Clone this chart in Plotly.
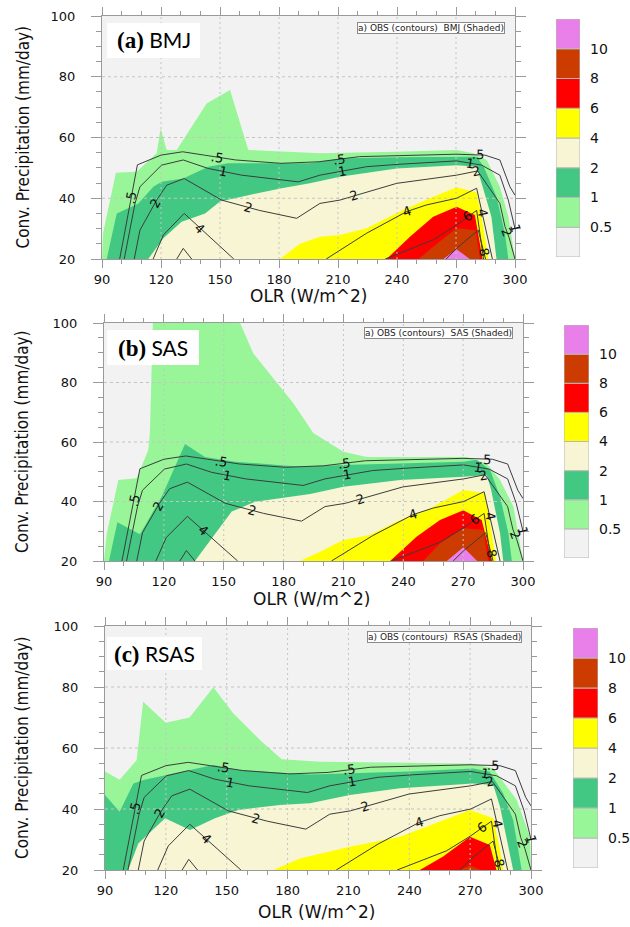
import math
import plotly.graph_objects as go

W, H = 630, 927

# ---------------- data ----------------
LEVEL_LABELS = ["0.5", "1", "2", "4", "6", "8", "10"]
LEVEL_COLORS = ["#f2f2f2", "#98f598", "#42c883", "#f7f5d3", "#ffff00", "#ff0000", "#cc3c00", "#e97fe9"]
XTICKS = [90, 120, 150, 180, 210, 240, 270, 300]
YTICKS = [20, 40, 60, 80, 100]
SCHEMES = ["BMJ", "SAS", "RSAS"]
PANEL_TAGS = ["(a)", "(b)", "(c)"]

# OBS contour lines (OLR, precipitation)
OBS_C05_X = [99, 108, 120, 131, 142, 158, 181, 200, 221, 245, 270, 284.7, 292.3, 297.4, 300]
OBS_C05_Y = [20, 51, 54.2, 55.3, 54.2, 52.6, 51.5, 52, 53.7, 54.2, 54.5, 54.2, 52.6, 43.8, 41]
OBS_C1_X = [101.3, 106.8, 109.3, 120.3, 131.3, 144, 161, 189.8, 200.8, 224.6, 241.5, 270.3, 283, 292.3, 296.6, 299.1, 300]
OBS_C1_Y = [20, 38.3, 43.8, 50.9, 52.6, 49.8, 47.6, 45.4, 47.6, 50.4, 51.2, 52.3, 50.9, 47.6, 39.4, 32.3, 30]
OBS_C2_X = [106.4, 109.3, 117.8, 122.9, 131.8, 150.8, 170, 189, 200.8, 211, 239.8, 270.3, 281, 292.3, 294.9, 297, 300]
OBS_C2_Y = [20, 29.5, 39.4, 44.3, 46.5, 39.4, 36, 33.4, 38.3, 39.4, 44.9, 47.6, 49, 38.3, 30.7, 27, 20]
OBS_C4A_X = [116, 121.2, 131.8, 145, 157]
OBS_C4A_Y = [20, 27.9, 35, 27, 20]
OBS_C4B_X = [204, 224.6, 244.9, 255, 270.3, 280.5, 288.5]
OBS_C4B_Y = [20, 28.5, 35.6, 37.8, 40, 43.3, 20]
OBS_C6A_X = [128, 131.3, 135.6]
OBS_C6A_Y = [20, 23.5, 20]
OBS_C6B_X = [234, 258.4, 270.3, 280.5, 284]
OBS_C6B_Y = [20, 26.3, 31.2, 36, 20]
OBS_C8_X = [265, 270.3, 281.3, 285]
OBS_C8_Y = [20, 23.5, 29.5, 20]

# contour labels: (text, line, segment index, fraction along segment)
OBS_LABELS = [
    (".5", "c05", 0, 0.65), (".5", "c05", 4, 0.4), (".5", "c05", 7, 0.5), (".5", "c05", 10, 0.75),
    ("1", "c1", 5, 0.45), ("1", "c1", 8, 0.47), ("1", "c1", 11, 0.55), ("1", "c1", 15, 0.9),
    ("2", "c2", 1, 0.9), ("2", "c2", 5, 0.7), ("2", "c2", 9, 0.25), ("2", "c2", 11, 0.9), ("2", "c2", 14, 0.5),
    ("4", "c4a", 2, 0.6), ("4", "c4b", 2, 0.0), ("4", "c4b", 5, 0.35),
    ("6", "c6b", 2, 0.55), ("8", "c8", 2, 0.75),
]

# shaded model fields: top boundary of region >= level
BMJ_05_X = [90, 90.5, 97.1, 107.6, 117.8, 119.8, 122.9, 128, 143.2, 155.1, 164.4, 200.8, 240, 270.3, 278.8, 285.6, 292.3, 296.6, 300]
BMJ_05_Y = [20, 28.5, 48.4, 48.7, 54.8, 63, 55.9, 55.9, 71.2, 75.6, 55.9, 54.8, 55.3, 55.9, 54.8, 52.6, 43.8, 34, 20]
BMJ_1_X = [92.4, 97.5, 108.5, 116.1, 120.3, 131.3, 144, 154.2, 195.7, 211, 240, 270.3, 280.5, 284, 290.6, 294.9, 296.6]
BMJ_1_Y = [20, 35, 38.3, 43.8, 45.4, 46.5, 50.4, 51.5, 51.5, 53.1, 53.5, 53.7, 53.7, 50.5, 40.5, 28.5, 20]
BMJ_2_X = [113.5, 121.2, 130.5, 142.4, 150, 156.8, 164.4, 181.3, 195.7, 211, 239.8, 270.3, 280.5, 283, 288, 290.6]
BMJ_2_Y = [20, 26.8, 32.3, 35, 38.9, 40, 41, 43.3, 44.9, 47.1, 49.8, 50.9, 50.4, 45, 33.9, 20]
BMJ_4_X = [180.5, 190.7, 200.8, 211, 224.6, 241.5, 258.4, 270.3, 280.5, 283, 286.5]
BMJ_4_Y = [20, 25, 27.3, 27.9, 30.1, 35.6, 40.5, 43.5, 42, 33.9, 20]
BMJ_6_X = [234.7, 246.6, 258.4, 270.3, 279.6, 283.5]
BMJ_6_Y = [20, 27.3, 33.9, 37.2, 34.5, 20]
BMJ_8_X = [251, 258.4, 270.3, 280, 282.2]
BMJ_8_Y = [20, 24, 30.1, 29.5, 20]
BMJ_10_X = [263.5, 270.3, 277]
BMJ_10_Y = [20, 23.2, 20]

SAS_05_X = [90, 91.4, 97.2, 106.4, 112.2, 113, 114.5, 158.2, 164.8, 171.6, 184.9, 194.9, 210, 221.7, 271.8, 281.8, 288.5, 295.2, 300]
SAS_05_Y = [20, 29.3, 47.2, 47.8, 57.3, 62.9, 100, 100, 89.8, 84.2, 73, 63, 56.7, 55, 55, 52.8, 47.2, 38.3, 20]
SAS_1_X = [92.5, 96.7, 108, 118.9, 130.6, 140.6, 155.7, 188.2, 210, 270.1, 276.8, 283.5, 288.5, 292.7, 294.4]
SAS_1_Y = [20, 33, 29, 41.6, 59.3, 55, 53.4, 51.7, 52.3, 53.4, 54, 50.6, 41.6, 29.3, 20]
SAS_2_X = [135.6, 154, 165.7, 193.3, 210, 238.4, 270.1, 281.8, 284, 288.5, 290.1]
SAS_2_Y = [20, 36.6, 39.9, 42.5, 45, 47.2, 48.3, 48.9, 44, 29.3, 20]
SAS_4_X = [188.2, 198.3, 210, 223.3, 238.4, 251.8, 270.1, 281, 283.5, 286.5]
SAS_4_Y = [20, 23.1, 27.1, 28.7, 33.8, 37.1, 43.9, 42.8, 32.7, 20]
SAS_6_X = [233.4, 246.8, 258.4, 270.1, 279.3, 284.5]
SAS_6_Y = [20, 28.2, 33.8, 37.1, 33.8, 20]
SAS_8_X = [250, 258.4, 270.1, 280.1, 282.6]
SAS_8_Y = [20, 26, 31, 30.4, 20]
SAS_10_X = [261.8, 270.1, 277]
SAS_10_Y = [20, 24.6, 20]

RSAS_05_X = [90, 90, 97.2, 105.6, 108.8, 120, 131.7, 143.4, 153.2, 166.4, 177.1, 196, 240, 271.5, 281.4, 292.9, 299.5, 300]
RSAS_05_Y = [20, 52.3, 49.6, 56, 75.2, 68.3, 70, 79.9, 71.4, 62.6, 56.3, 55.5, 55.2, 54.8, 53.3, 43, 30.9, 20]
RSAS_1_X = [90, 90, 97.2, 104, 108.9, 120, 143.4, 155.7, 191, 240, 271.5, 279.7, 286.3, 291.2, 295.4]
RSAS_1_Y = [20, 44.6, 39.1, 48.4, 49.5, 51, 54.4, 52.8, 51.3, 52.3, 53.3, 52.2, 45.1, 36.4, 20]
RSAS_2_X = [101.4, 106.4, 119.6, 131.9, 144.2, 155.7, 176.2, 191, 210.7, 235.4, 271.5, 281.4, 284.7, 288, 291.2]
RSAS_2_Y = [20, 28.7, 37, 33.1, 37, 39.7, 41.3, 41.9, 44.6, 46.8, 48.4, 47.9, 40.8, 29.8, 20]
RSAS_4_X = [173, 186.1, 210.7, 235.4, 248.5, 269.9, 281.4, 284.7, 286.3]
RSAS_4_Y = [20, 23.8, 27.6, 30.9, 34.2, 39.7, 37, 26.6, 20]
RSAS_6_X = [245.2, 256.7, 269.9, 279.7, 283]
RSAS_6_Y = [20, 24.4, 30.9, 28.2, 20]
RSAS_8_X = [265, 270, 275]
RSAS_8_Y = [20, 21.5, 20]

SHADED = {
    "BMJ": [(BMJ_05_X, BMJ_05_Y), (BMJ_1_X, BMJ_1_Y), (BMJ_2_X, BMJ_2_Y), (BMJ_4_X, BMJ_4_Y),
            (BMJ_6_X, BMJ_6_Y), (BMJ_8_X, BMJ_8_Y), (BMJ_10_X, BMJ_10_Y)],
    "SAS": [(SAS_05_X, SAS_05_Y), (SAS_1_X, SAS_1_Y), (SAS_2_X, SAS_2_Y), (SAS_4_X, SAS_4_Y),
            (SAS_6_X, SAS_6_Y), (SAS_8_X, SAS_8_Y), (SAS_10_X, SAS_10_Y)],
    "RSAS": [(RSAS_05_X, RSAS_05_Y), (RSAS_1_X, RSAS_1_Y), (RSAS_2_X, RSAS_2_Y), (RSAS_4_X, RSAS_4_Y),
             (RSAS_6_X, RSAS_6_Y), (RSAS_8_X, RSAS_8_Y)],
}
OBS_LINES = {
    "c05": (OBS_C05_X, OBS_C05_Y), "c1": (OBS_C1_X, OBS_C1_Y), "c2": (OBS_C2_X, OBS_C2_Y),
    "c4a": (OBS_C4A_X, OBS_C4A_Y), "c4b": (OBS_C4B_X, OBS_C4B_Y),
    "c6a": (OBS_C6A_X, OBS_C6A_Y), "c6b": (OBS_C6B_X, OBS_C6B_Y), "c8": (OBS_C8_X, OBS_C8_Y),
}

# ---------------- layout geometry (pixels) ----------------
PANEL_PX = [(102, 515, 16, 259), (104, 523, 323, 561), (105, 531, 626, 870)]
CBAR_PX = [(556, 580, 19, 257), (564, 589, 325, 558), (573, 598, 628, 868)]
TAGBOX_PX = [(107, 200, 23, 58), (107, 199, 330, 365), (107, 202, 637, 670)]
NOTE_PX = [(505, 27.5), (513, 333), (522, 637)]
XTITLE_PX = [(309, 296), (312, 599), (317, 912)]


def fx(px):
    return px / W


def fy(py):
    return 1 - py / H


TICKFONT = dict(family="DejaVu Sans", size=13, color="#111")
AXC = "#9a9a9a"

fig = go.Figure()
layout = dict(
    template="none",
    width=W, height=H, margin=dict(l=0, r=0, t=0, b=0, pad=0, autoexpand=False),
    paper_bgcolor="white", plot_bgcolor=LEVEL_COLORS[0], showlegend=False,
    annotations=[], shapes=[],
)

xr = (XTICKS[0], XTICKS[-1])
yr = (YTICKS[0], YTICKS[-1])

for i, name in enumerate(SCHEMES):
    xa, ya = f"x{i+1}", f"y{i+1}"
    x0, x1, yt, yb = PANEL_PX[i]
    sx = (x1 - x0) / (xr[1] - xr[0])
    sy = (yb - yt) / (yr[1] - yr[0])

    # shaded regions
    for k, (xs, ys) in enumerate(SHADED[name]):
        fig.add_trace(go.Scatter(x=xs, y=ys, mode="lines", fill="toself",
                                 fillcolor=LEVEL_COLORS[k + 1], line=dict(width=0),
                                 xaxis=xa, yaxis=ya, hoverinfo="skip"))
    # dotted grid above shading
    for t in XTICKS[1:-1]:
        fig.add_trace(go.Scatter(x=[t, t], y=list(yr), mode="lines",
                                 line=dict(color="#c4c4c4", width=1, dash="2px,3px"),
                                 xaxis=xa, yaxis=ya, hoverinfo="skip"))
    for t in YTICKS[1:-1]:
        fig.add_trace(go.Scatter(x=list(xr), y=[t, t], mode="lines",
                                 line=dict(color="#c4c4c4", width=1, dash="3px,3px"),
                                 xaxis=xa, yaxis=ya, hoverinfo="skip"))
    # OBS contour lines
    for key, (xs, ys) in OBS_LINES.items():
        fig.add_trace(go.Scatter(x=xs, y=ys, mode="lines",
                                 line=dict(color="#3c3c3c", width=1),
                                 xaxis=xa, yaxis=ya, hoverinfo="skip"))
    for txt, key, si, fr in OBS_LABELS:
        xs, ys = OBS_LINES[key]
        lx = xs[si] + fr * (xs[si + 1] - xs[si])
        ly = ys[si] + fr * (ys[si + 1] - ys[si])
        ang = -math.degrees(math.atan2((ys[si + 1] - ys[si]) * sy, (xs[si + 1] - xs[si]) * sx))
        if ang > 90:
            ang -= 180
        if ang < -90:
            ang += 180
        layout["annotations"].append(dict(
            x=lx, y=ly, xref=xa, yref=ya, text=txt, showarrow=False, textangle=ang,
            xanchor="center", yanchor="middle",
            font=dict(family="DejaVu Sans", size=13, color="#111")))

    layout[f"xaxis{i+1}"] = dict(
        domain=[fx(x0), fx(x1)], range=list(xr), anchor=ya, automargin=False,
        tickmode="array", tickvals=XTICKS, ticks="outside", ticklen=8, tickcolor=AXC,
        showline=True, linecolor=AXC, linewidth=1, mirror="ticks",
        showgrid=False, zeroline=False, tickfont=TICKFONT,
        minor=dict(tickmode="linear", tick0=90, dtick=10, ticks="outside", ticklen=4,
                   tickcolor=AXC, showgrid=False),
    )
    layout[f"yaxis{i+1}"] = dict(
        domain=[fy(yb), fy(yt)], range=list(yr), anchor=xa, automargin=False,
        tickmode="array", tickvals=YTICKS, ticks="outside", ticklen=10, tickcolor=AXC,
        showline=True, linecolor=AXC, linewidth=1, mirror="ticks",
        showgrid=False, zeroline=False, tickfont=TICKFONT, ticklabelstandoff=13,
        minor=dict(tickmode="linear", tick0=20, dtick=5, ticks="outside", ticklen=5,
                   tickcolor=AXC, showgrid=False),
    )

    # colorbar as stacked boxes
    cx0, cx1, cyt, cyb = CBAR_PX[i]
    xc, yc = f"x{i+4}", f"y{i+4}"
    n = len(LEVEL_COLORS)
    fig.add_trace(go.Bar(x=[0] * n, y=[1] * n, base=list(range(n)), width=1,
                         marker=dict(color=LEVEL_COLORS, line=dict(color="#b8b8b8", width=1)),
                         xaxis=xc, yaxis=yc, hoverinfo="skip"))
    layout[f"xaxis{i+4}"] = dict(domain=[fx(cx0), fx(cx1)], range=[-0.5, 0.5], anchor=yc,
                                 visible=False, automargin=False)
    layout[f"yaxis{i+4}"] = dict(domain=[fy(cyb), fy(cyt)], range=[0, n], anchor=xc,
                                 side="right", tickmode="array", automargin=False,
                                 tickvals=list(range(1, n)), ticktext=LEVEL_LABELS,
                                 ticks="", showline=False, showgrid=False, zeroline=False,
                                 tickfont=dict(family="DejaVu Sans", size=14, color="#111"),
                                 ticklabelstandoff=9)

    # panel tag box
    bx0, bx1, by0, by1 = TAGBOX_PX[i]
    layout["shapes"].append(dict(type="rect", xref="paper", yref="paper",
                                 x0=fx(bx0), x1=fx(bx1), y0=fy(by1), y1=fy(by0),
                                 fillcolor="white", line=dict(width=0), layer="above"))
    layout["annotations"].append(dict(
        x=fx((bx0 + bx1) / 2), y=fy((by0 + by1) / 2), xref="paper", yref="paper",
        xanchor="center", yanchor="middle",
        text=f'<span style="font-family:Liberation Serif;font-weight:bold;font-size:23px">{PANEL_TAGS[i]}</span> {name}',
        showarrow=False, font=dict(family="Lato, Open Sans, sans-serif", size=21, color="black")))

    # small legend note
    nx, ny = NOTE_PX[i]
    layout["annotations"].append(dict(
        x=fx(nx), y=fy(ny), xref="paper", yref="paper", xanchor="right", yanchor="middle",
        text=f"a) OBS (contours)  {name} (Shaded)", showarrow=False,
        bgcolor="white", bordercolor="#8a8a8a", borderwidth=1, borderpad=0,
        font=dict(family="DejaVu Sans", size=9, color="#222")))

    # axis titles
    tx, ty = XTITLE_PX[i]
    layout["annotations"].append(dict(
        x=fx(tx), y=fy(ty), xref="paper", yref="paper", text="OLR (W/m^2)", showarrow=False,
        xanchor="center", yanchor="middle",
        font=dict(family="DejaVu Sans", size=17, color="#111")))
    layout["annotations"].append(dict(
        x=fx(22), y=fy((yt + yb) / 2), xref="paper", yref="paper",
        text="Conv. Precipitation (mm/day)", showarrow=False, textangle=-90,
        xanchor="center", yanchor="middle",
        font=dict(family="Liberation Sans Narrow, DejaVu Sans Condensed, sans-serif", size=17,
                  color="#111")))

fig.update_layout(**layout)
fig.write_html("out.html", post_script="document.body.style.margin='0';document.body.style.overflow='hidden';")
